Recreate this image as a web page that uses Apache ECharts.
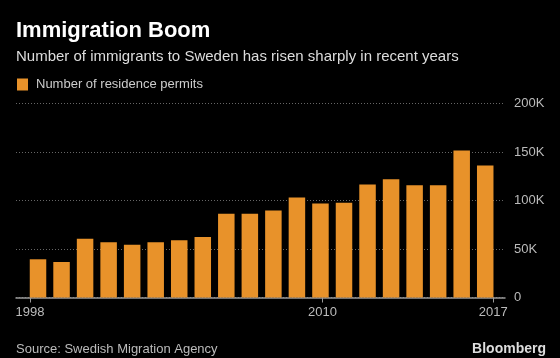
<!DOCTYPE html>
<html>
<head>
<meta charset="utf-8">
<script src="https://cdn.jsdelivr.net/npm/echarts@6/dist/echarts.min.js"></script>
<style>
html,body{margin:0;padding:0;background:#000;}
#c{width:560px;height:358px;}
</style>
</head>
<body>
<div id="c"></div>
<script>
var years = [1998,1999,2000,2001,2002,2003,2004,2005,2006,2007,2008,2009,2010,2011,2012,2013,2014,2015,2016,2017];
var permits = [39400,36600,60600,56900,54500,56900,59000,62400,86400,86400,89800,103200,97000,97700,116600,121800,115600,115600,151600,136200];
var xTickYears = [1998,2010,2017];
var yTicks = [0,50000,100000,150000,200000];

var chart = echarts.init(document.getElementById('c'), null, {renderer:'canvas'});
var FONT = '"Liberation Sans", Arial, sans-serif';
var option = {
  backgroundColor:'#000',
  animation:false,
  title:[
    {text:'Immigration Boom', left:11, top:15, textStyle:{color:'#fff', fontSize:22, fontWeight:'bold', fontFamily:FONT}},
    {text:'Number of immigrants to Sweden has risen sharply in recent years', left:11, top:44, textStyle:{color:'#ddd', fontSize:15, fontWeight:'normal', fontFamily:FONT}},
    {text:'Source: Swedish Migration Agency', left:11, top:338, textStyle:{color:'#bbb', fontSize:13, fontWeight:'normal', fontFamily:FONT}},
    {text:'Bloomberg', right:9, top:337, textStyle:{color:'#ddd', fontSize:14, fontWeight:'bold', fontFamily:FONT}}
  ],
  legend:{
    left:12, top:73, itemWidth:11, itemHeight:12, itemGap:10,
    icon:'rect',
    textStyle:{color:'#ccc', fontSize:13, fontFamily:FONT, padding:[0,0,0,3]},
    data:['Number of residence permits']
  },
  grid:{left:16, right:55, top:103.5, bottom:60.5, containLabel:false},
  xAxis:[
    {type:'value', min:1997.065, max:2017.84, show:false},
    {type:'value', min:1997.426, max:2017.483, position:'bottom',
     axisLine:{show:true, lineStyle:{color:'#999', width:1.5}},
     splitLine:{show:false},
     axisTick:{show:true, length:5, inside:false, customValues:xTickYears, lineStyle:{color:'#999'}},
     axisLabel:{color:'#bbb', fontSize:13, fontFamily:FONT, margin:8, customValues:xTickYears, formatter:function(v){return String(v);}}
    }
  ],
  yAxis:{
    type:'value', position:'right', min:0, max:200000, interval:50000,
    axisLine:{show:false}, axisTick:{show:false},
    splitLine:{show:true, lineStyle:{color:'#666', type:[1,2], width:1}},
    axisLabel:{color:'#bbb', fontSize:13, fontFamily:FONT, margin:9,
      formatter:function(v){return v===0?'0':(v/1000)+'K';}}
  },
  series:[{
    name:'Number of residence permits',
    type:'bar', xAxisIndex:0, barWidth:16.5,
    itemStyle:{color:'#E8922A'},
    data:years.map(function(y,i){return [y, permits[i]];})
  }]
};
chart.setOption(option);
</script>
</body>
</html>
